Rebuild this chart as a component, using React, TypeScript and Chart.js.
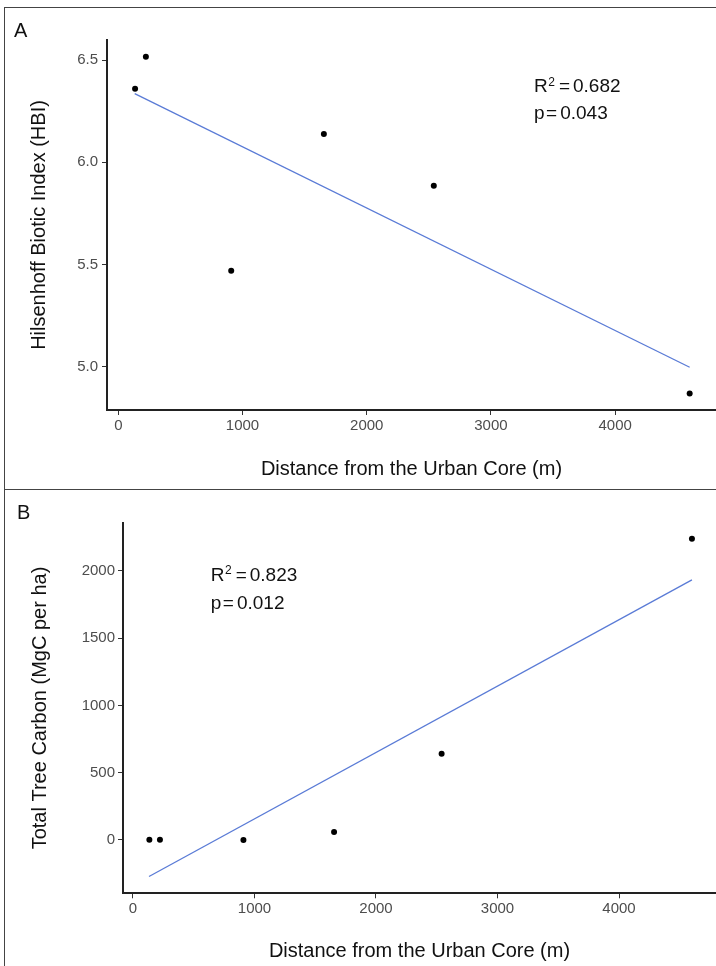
import React, { useEffect, useRef } from "react";
import { Chart, registerables } from "chart.js";

Chart.register(...registerables);

// ---------- data ----------
const distance = [135, 222, 909, 1655, 2540, 4600];
const hbi = [6.36, 6.516, 5.469, 6.138, 5.885, 4.869];
const treeCarbon = [2, 2, 0, 59, 641, 2238];

const fitDistance = [132, 4600];
const hbiFit = [6.336, 4.997];
const carbonFit = [-271, 1932];

const distanceTicks = [0, 1000, 2000, 3000, 4000];
const distanceTickLabels = ["0", "1000", "2000", "3000", "4000"];
const hbiTicks = [5.0, 5.5, 6.0, 6.5];
const hbiTickLabels = ["5.0", "5.5", "6.0", "6.5"];
const carbonTicks = [0, 500, 1000, 1500, 2000];
const carbonTickLabels = ["0", "500", "1000", "1500", "2000"];

const hbiStats = ["0.682", "0.043"];
const carbonStats = ["0.823", "0.012"];

const FONT = '"Liberation Sans", Arial, Helvetica, sans-serif';

type PanelSpec = {
  letter: string;
  letterX: number;
  letterY: number;
  width: number;
  height: number;
  yTitle: string;
  yValues: number[];
  fitValues: number[];
  yTicks: number[];
  yTickLabels: string[];
  xMin: number;
  xMax: number;
  yMin: number;
  yMax: number;
  stats: string[];
  statsX: number;
  statsY1: number;
  statsY2: number;
  padTop: number;
  yAxisWidth: number;
  xAxisHeight: number;
  yTitlePad: number;
  xTitlePad: number;
  yTickPad: number;
};

const statsPlugin = {
  id: "statsText",
  afterDatasetsDraw(chart: any, _args: any, opts: any) {
    const { ctx } = chart;
    const x = chart.scales.x;
    const y = chart.scales.y;
    const px = x.getPixelForValue(opts.x);
    const py1 = y.getPixelForValue(opts.y1);
    const py2 = y.getPixelForValue(opts.y2);
    const big = `19px ${FONT}`;
    const small = `12px ${FONT}`;
    ctx.save();
    ctx.fillStyle = "#111";
    ctx.textAlign = "left";
    ctx.textBaseline = "alphabetic";
    // line 1: R^2 = value
    ctx.font = big;
    ctx.fillText("R", px, py1);
    let cx = px + ctx.measureText("R").width + 0.5;
    ctx.font = small;
    ctx.fillText("2", cx, py1 - 6.5);
    cx += ctx.measureText("2").width + 4;
    ctx.font = big;
    ctx.fillText("=", cx, py1);
    cx += ctx.measureText("=").width + 3;
    ctx.fillText(opts.r2, cx, py1);
    // line 2: p = value
    ctx.fillText("p", px, py2);
    cx = px + ctx.measureText("p").width + 1.5;
    ctx.fillText("=", cx, py2);
    cx += ctx.measureText("=").width + 3;
    ctx.fillText(opts.p, cx, py2);
    // panel letter
    ctx.font = `20px ${FONT}`;
    ctx.fillText(opts.letter, opts.letterX, opts.letterY);
    ctx.restore();
  },
};

function Panel({ spec }: { spec: PanelSpec }) {
  const ref = useRef<HTMLCanvasElement | null>(null);

  useEffect(() => {
    if (!ref.current) return;
    const chart = new Chart(ref.current, {
      type: "scatter",
      data: {
        datasets: [
          {
            data: distance.map((d, i) => ({ x: d, y: spec.yValues[i] })),
            pointRadius: 3,
            pointBackgroundColor: "#000",
            pointBorderColor: "#000",
            pointBorderWidth: 0,
            showLine: false,
            order: 0,
          },
          {
            data: fitDistance.map((d, i) => ({ x: d, y: spec.fitValues[i] })),
            showLine: true,
            pointRadius: 0,
            borderColor: "#5a7bd6",
            borderWidth: 1.3,
            fill: false,
            tension: 0,
            order: 1,
          },
        ],
      },
      options: {
        responsive: false,
        animation: false,
        events: [],
        layout: {
          autoPadding: false,
          padding: { top: spec.padTop, left: 0, right: 0, bottom: 0 },
        },
        plugins: {
          legend: { display: false },
          tooltip: { enabled: false },
          statsText: {
            x: spec.statsX,
            y1: spec.statsY1,
            y2: spec.statsY2,
            r2: spec.stats[0],
            p: spec.stats[1],
            letter: spec.letter,
            letterX: spec.letterX,
            letterY: spec.letterY,
          },
        } as any,
        scales: {
          x: {
            type: "linear",
            position: "bottom",
            min: spec.xMin,
            max: spec.xMax,
            afterBuildTicks: (s: any) => {
              s.ticks = distanceTicks.map((v) => ({ value: v }));
            },
            afterFit: (s: any) => {
              s.height = spec.xAxisHeight;
            },
            ticks: {
              color: "#4d4d4d",
              font: { size: 15, family: FONT },
              padding: 2,
              maxRotation: 0,
              callback: (_v: any, i: number) => distanceTickLabels[i],
            },
            grid: {
              display: true,
              drawOnChartArea: false,
              drawTicks: true,
              tickLength: 5,
              color: "#333",
              tickWidth: 1,
            },
            border: { display: true, color: "#222", width: 2 },
            title: {
              display: true,
              text: "Distance from the Urban Core (m)",
              color: "#111",
              font: { size: 20, family: FONT },
              padding: { top: 0, bottom: spec.xTitlePad },
            },
          },
          y: {
            type: "linear",
            position: "left",
            min: spec.yMin,
            max: spec.yMax,
            afterBuildTicks: (s: any) => {
              s.ticks = spec.yTicks.map((v) => ({ value: v }));
            },
            afterFit: (s: any) => {
              s.width = spec.yAxisWidth;
            },
            ticks: {
              color: "#4d4d4d",
              font: { size: 15, family: FONT },
              padding: spec.yTickPad,
              callback: (_v: any, i: number) => spec.yTickLabels[i],
            },
            grid: {
              display: true,
              drawOnChartArea: false,
              drawTicks: true,
              tickLength: 5,
              color: "#333",
              tickWidth: 1,
            },
            border: { display: true, color: "#222", width: 2 },
            title: {
              display: true,
              text: spec.yTitle,
              color: "#111",
              font: { size: 20, family: FONT },
              padding: { top: spec.yTitlePad, bottom: 0 },
            },
          },
        },
      } as any,
      plugins: [statsPlugin],
    });
    return () => chart.destroy();
  }, [spec]);

  return (
    <canvas
      ref={ref}
      width={spec.width}
      height={spec.height}
      style={{ display: "block", width: spec.width, height: spec.height }}
    />
  );
}

const panelA: PanelSpec = {
  letter: "A",
  letterX: 14,
  letterY: 37.3,
  width: 716,
  height: 489,
  yTitle: "Hilsenhoff Biotic Index (HBI)",
  yValues: hbi,
  fitValues: hbiFit,
  yTicks: hbiTicks,
  yTickLabels: hbiTickLabels,
  xMin: -91,
  xMax: 4812,
  yMin: 4.788,
  yMax: 6.598,
  stats: hbiStats,
  statsX: 3347,
  statsY1: 6.342,
  statsY2: 6.211,
  padTop: 40,
  yAxisWidth: 107,
  xAxisHeight: 79,
  yTitlePad: 27,
  xTitlePad: 8,
  yTickPad: 4,
};

const panelB: PanelSpec = {
  letter: "B",
  letterX: 17,
  letterY: 30.3,
  width: 716,
  height: 477,
  yTitle: "Total Tree Carbon (MgC per ha)",
  yValues: treeCarbon,
  fitValues: carbonFit,
  yTicks: carbonTicks,
  yTickLabels: carbonTickLabels,
  xMin: -82,
  xMax: 4798,
  yMin: -396,
  yMax: 2357,
  stats: carbonStats,
  statsX: 640,
  statsY1: 1926,
  statsY2: 1714,
  padTop: 33.7,
  yAxisWidth: 123,
  xAxisHeight: 72.7,
  yTitlePad: 28,
  xTitlePad: 2.5,
  yTickPad: 3,
};

export default function App() {
  return (
    <div
      style={{
        position: "absolute",
        left: 0,
        top: 0,
        width: 716,
        height: 966,
        overflow: "hidden",
        background: "#fff",
      }}
    >
      <div style={{ position: "absolute", left: 0, top: 0 }}>
        <Panel spec={panelA} />
      </div>
      <div style={{ position: "absolute", left: 0, top: 489 }}>
        <Panel spec={panelB} />
      </div>
      <div
        style={{
          position: "absolute",
          left: 4,
          top: 7,
          width: 712,
          height: 483,
          boxSizing: "border-box",
          borderLeft: "1px solid #444",
          borderTop: "1px solid #444",
          borderBottom: "1px solid #444",
          pointerEvents: "none",
        }}
      />
      <div
        style={{
          position: "absolute",
          left: 4,
          top: 490,
          width: 712,
          height: 476,
          boxSizing: "border-box",
          borderLeft: "1px solid #444",
          pointerEvents: "none",
        }}
      />
    </div>
  );
}
